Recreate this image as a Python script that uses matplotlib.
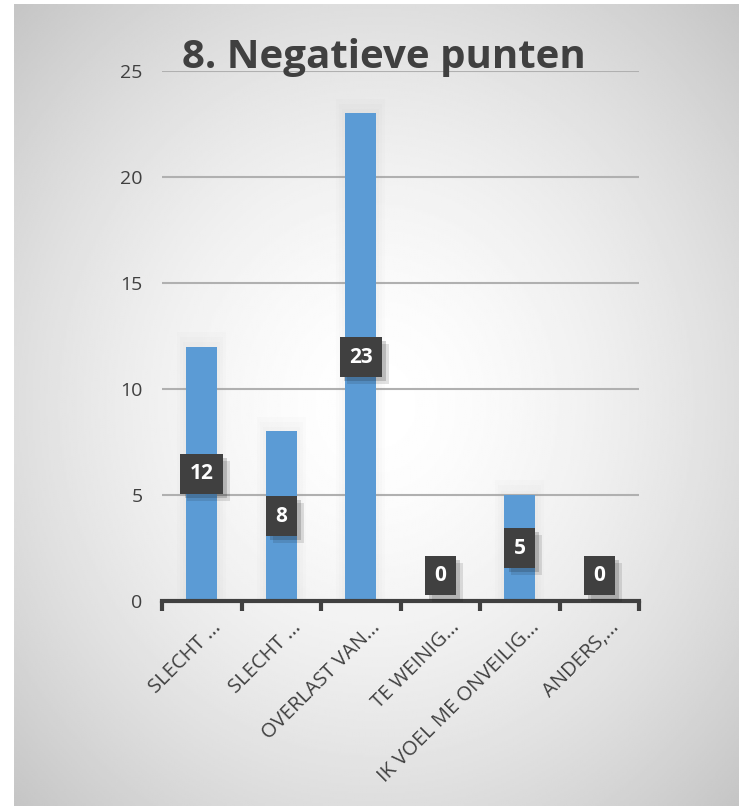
import numpy as np
import matplotlib
matplotlib.use("Agg")
import matplotlib.pyplot as plt
import matplotlib.patheffects as pe
from matplotlib.patches import Rectangle

categories = ["SLECHT ...", "SLECHT ...", "OVERLAST VAN...", "TE WEINIG...",
              "IK VOEL ME ONVEILIG...", "ANDERS,..."]
values = [12, 8, 23, 0, 5, 0]
yticks = [0, 5, 10, 15, 20, 25]
title = "8. Negatieve punten"

plt.rcParams["font.family"] = ["Open Sans", "DejaVu Sans"]

fig = plt.figure(figsize=(7.39, 8.06), dpi=100)

# radial gradient background panel
bg = fig.add_axes([14 / 739, 0, 1 - 14 / 739, 1 - 4 / 806])
yy, xx = np.mgrid[0:1:400j, 0:1:400j]
r = np.sqrt(((xx - 0.5) / 0.75) ** 2 + ((yy - 0.5) / 0.75) ** 2)
shade = 1.0 - 0.23 * np.clip(r / 0.95, 0, 1) ** 1.6
bg.imshow(shade, cmap="gray", vmin=0, vmax=1, extent=[0, 1, 0, 1], aspect="auto")
bg.axis("off")

ax = fig.add_axes([162 / 739, 205 / 806, 477 / 739, 530 / 806])
ax.patch.set_alpha(0)
x = np.arange(len(categories))

# soft glow around bars
for xi, v in zip(x, values):
    if v > 0:
        for k in range(3):
            w = 0.62 - 0.08 * k
            ax.add_patch(Rectangle((xi - w / 2, 0), w, v + 0.7 - 0.25 * k,
                                   color="#a0a0a0", alpha=0.03, lw=0, zorder=1))
bars = ax.bar(x, values, width=0.39, color="#5b9bd5", zorder=3)

ax.set_xlim(-0.5, len(categories) - 0.5)
ax.set_ylim(0, 25)
ax.set_yticks(yticks)
ax.set_yticklabels([str(t) for t in yticks], fontsize=14, color="#404040")
ax.tick_params(axis="y", length=0, pad=14)
ax.yaxis.grid(True, color="#b0b0b0", linewidth=1.5, zorder=0)
ax.set_axisbelow(True)
for s in ["top", "right", "left"]:
    ax.spines[s].set_visible(False)
ax.spines["bottom"].set_color("#404040")
ax.spines["bottom"].set_linewidth(3)
ax.spines["bottom"].set_zorder(5)

# category boundary ticks
ax.set_xticks(np.arange(-0.5, len(categories), 1.0))
ax.set_xticklabels([])
ax.tick_params(axis="x", length=7, width=3, color="#404040")
for xi, lab in zip(x, categories):
    ax.annotate(lab, xy=(xi, 0), xycoords=("data", "axes fraction"),
                xytext=(12, -17), textcoords="offset points",
                rotation=45, rotation_mode="anchor", ha="right", va="center",
                fontsize=14.5, color="#404040")

# data labels
for xi, v in zip(x, values):
    ypos = max(v / 2, 1.2)
    t = ax.text(xi, ypos, str(v), ha="center", va="center", fontsize=15,
                fontweight="bold", color="white", zorder=6,
                bbox=dict(boxstyle="square,pad=0.45", facecolor="#404040",
                          edgecolor="none"))
    t.get_bbox_patch().set_path_effects(
        [pe.SimplePatchShadow(offset=(5, -5), alpha=0.12),
         pe.SimplePatchShadow(offset=(3, -3), alpha=0.18),
         pe.Normal()])

fig.text(0.52, 0.929, title, ha="center", va="center", fontsize=29,
         fontweight="bold", color="#404040")

fig.savefig("out.png", dpi=100)
